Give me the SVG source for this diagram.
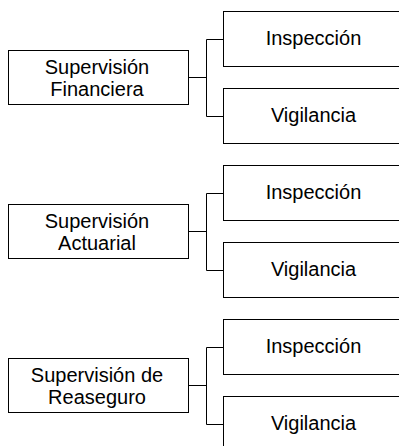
<svg xmlns="http://www.w3.org/2000/svg" width="399" height="446" viewBox="0 0 399 446">
<style>
.box{fill:#fff;stroke:#000;stroke-width:1}
.t{font-family:"Liberation Sans",Arial,sans-serif;font-size:20px;fill:#000;text-anchor:middle}
.c{fill:none;stroke:#000;stroke-width:1}
</style>
<rect width="399" height="446" fill="#fff"/>
<g id="connectors">
<path class="c" d="M188.5 77.5H206.5M206.5 39.5V116.5M206.5 39.5H223M206.5 116.5H223"/>
<path class="c" d="M188.5 231.5H206.5M206.5 193.5V270.5M206.5 193.5H223M206.5 270.5H223"/>
<path class="c" d="M188.5 385.5H206.5M206.5 347.5V424.5M206.5 347.5H223M206.5 424.5H223"/>
</g>
<g id="n1"><rect class="box" x="8.5" y="50.5" width="180" height="54"/><text class="t" x="97" y="74">Supervisión</text><text class="t" x="97" y="95.5">Financiera</text></g>
<g id="n1a"><rect class="box" x="223.5" y="11.5" width="181" height="55"/><text class="t" x="313.5" y="44.5">Inspección</text></g>
<g id="n1b"><rect class="box" x="223.5" y="88.5" width="181" height="55"/><text class="t" x="313.5" y="121.5">Vigilancia</text></g>
<g id="n2"><rect class="box" x="8.5" y="204.5" width="180" height="54"/><text class="t" x="97" y="228">Supervisión</text><text class="t" x="97" y="249.5">Actuarial</text></g>
<g id="n2a"><rect class="box" x="223.5" y="165.5" width="181" height="55"/><text class="t" x="313.5" y="198.5">Inspección</text></g>
<g id="n2b"><rect class="box" x="223.5" y="242.5" width="181" height="55"/><text class="t" x="313.5" y="275.5">Vigilancia</text></g>
<g id="n3"><rect class="box" x="8.5" y="358.5" width="180" height="54"/><text class="t" x="97" y="382">Supervisión de</text><text class="t" x="97" y="403.5">Reaseguro</text></g>
<g id="n3a"><rect class="box" x="223.5" y="319.5" width="181" height="55"/><text class="t" x="313.5" y="352.5">Inspección</text></g>
<g id="n3b"><rect class="box" x="223.5" y="396.5" width="181" height="55"/><text class="t" x="313.5" y="429.5">Vigilancia</text></g>
</svg>
